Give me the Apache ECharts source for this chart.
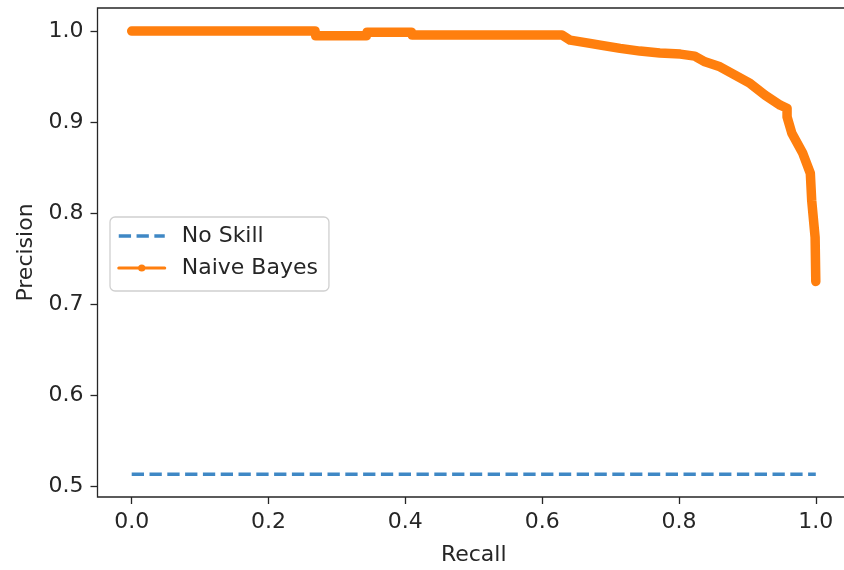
<!DOCTYPE html>
<html>
<head>
<meta charset="utf-8">
<script src="https://cdn.jsdelivr.net/npm/echarts@6/dist/echarts.min.js"></script>
<style>html,body{margin:0;padding:0;background:#fff;}#c{width:844px;height:570px;}</style>
</head>
<body>
<div id="c"></div>
<script>
// Data
const noSkillRecall = [0.0, 1.0];
const noSkillPrecision = [0.5136, 0.5136];
const nbRecall = [0.0, 0.268, 0.269, 0.343, 0.344, 0.409, 0.410, 0.629, 0.641, 0.670, 0.685, 0.714, 0.743, 0.772, 0.802, 0.823, 0.838, 0.860, 0.882, 0.904, 0.926, 0.948, 0.958, 0.958, 0.965, 0.981, 0.992, 0.994, 0.999, 1.0];
const nbPrecision = [1.0, 1.0, 0.9948, 0.9948, 0.9986, 0.9986, 0.9956, 0.9956, 0.990, 0.9865, 0.9846, 0.981, 0.978, 0.976, 0.9747, 0.9725, 0.9662, 0.9607, 0.9516, 0.9425, 0.9296, 0.9186, 0.9153, 0.9058, 0.8878, 0.8658, 0.8439, 0.8142, 0.7735, 0.7251];
const xTicks = [0.0, 0.2, 0.4, 0.6, 0.8, 1.0];
const yTicks = [0.5, 0.6, 0.7, 0.8, 0.9, 1.0];

const FONT = 'DejaVu Sans';
const FS = 22;
const chart = echarts.init(document.getElementById('c'), null, {renderer: 'canvas'});
const zip = (a, b) => a.map((v, i) => [v, b[i]]);

chart.setOption({
  animation: false,
  backgroundColor: '#ffffff',
  textStyle: {fontFamily: FONT},
  grid: {left: 97.5, top: 8, width: 752.5, bottom: 73, show: true, outerBoundsMode: 'none', containLabel: false, borderColor: '#262626', borderWidth: 1.3, backgroundColor: 'transparent'},
  xAxis: {
    type: 'value', min: -0.05, max: 1.05,
    name: 'Recall', nameLocation: 'middle', nameGap: 47,
    nameTextStyle: {fontFamily: FONT, fontSize: FS, color: '#262626'},
    axisLine: {show: false, onZero: false},
    axisTick: {show: true, length: 7, lineStyle: {color: '#262626', width: 1.3}, customValues: xTicks},
    axisLabel: {customValues: xTicks, margin: 14, fontFamily: FONT, fontSize: FS, color: '#262626', formatter: v => v.toFixed(1)},
    splitLine: {show: false}
  },
  yAxis: {
    type: 'value', min: 0.4886, max: 1.0253,
    name: 'Precision', nameLocation: 'middle', nameGap: 60,
    nameTextStyle: {fontFamily: FONT, fontSize: FS, color: '#262626'},
    axisLine: {show: false, onZero: false},
    axisTick: {show: true, length: 7, lineStyle: {color: '#262626', width: 1.3}, customValues: yTicks},
    axisLabel: {customValues: yTicks, margin: 14, fontFamily: FONT, fontSize: FS, color: '#262626', formatter: v => v.toFixed(1)},
    splitLine: {show: false}
  },
  legend: {
    orient: 'vertical', left: 110, top: 217,
    padding: [8, 11, 12, 7],
    itemWidth: 46, itemHeight: 9, itemGap: 10,
    borderColor: '#d0d0d0', borderWidth: 1.3, borderRadius: 5,
    backgroundColor: 'rgba(255,255,255,0.8)',
    textStyle: {fontFamily: FONT, fontSize: FS, color: '#262626', padding: [0, 0, 0, 12]},
    data: [
      {name: 'No Skill', itemStyle: {opacity: 0}, lineStyle: {width: 3.5}},
      {name: 'Naive Bayes', lineStyle: {width: 3}, itemStyle: {color: '#ff7f0e'}}
    ]
  },
  series: [
    {
      name: 'No Skill', type: 'line', data: zip(noSkillRecall, noSkillPrecision),
      symbol: 'none', color: '#3f88c5',
      lineStyle: {color: '#3f88c5', width: 3.5, type: [12.3, 5.5], cap: 'butt'}
    },
    {
      name: 'Naive Bayes', type: 'line', data: zip(nbRecall, nbPrecision),
      symbol: 'circle', showSymbol: false, color: '#ff7f0e',
      lineStyle: {color: '#ff7f0e', width: 9.5, cap: 'round', join: 'round'}
    }
  ]
});
</script>
</body>
</html>
